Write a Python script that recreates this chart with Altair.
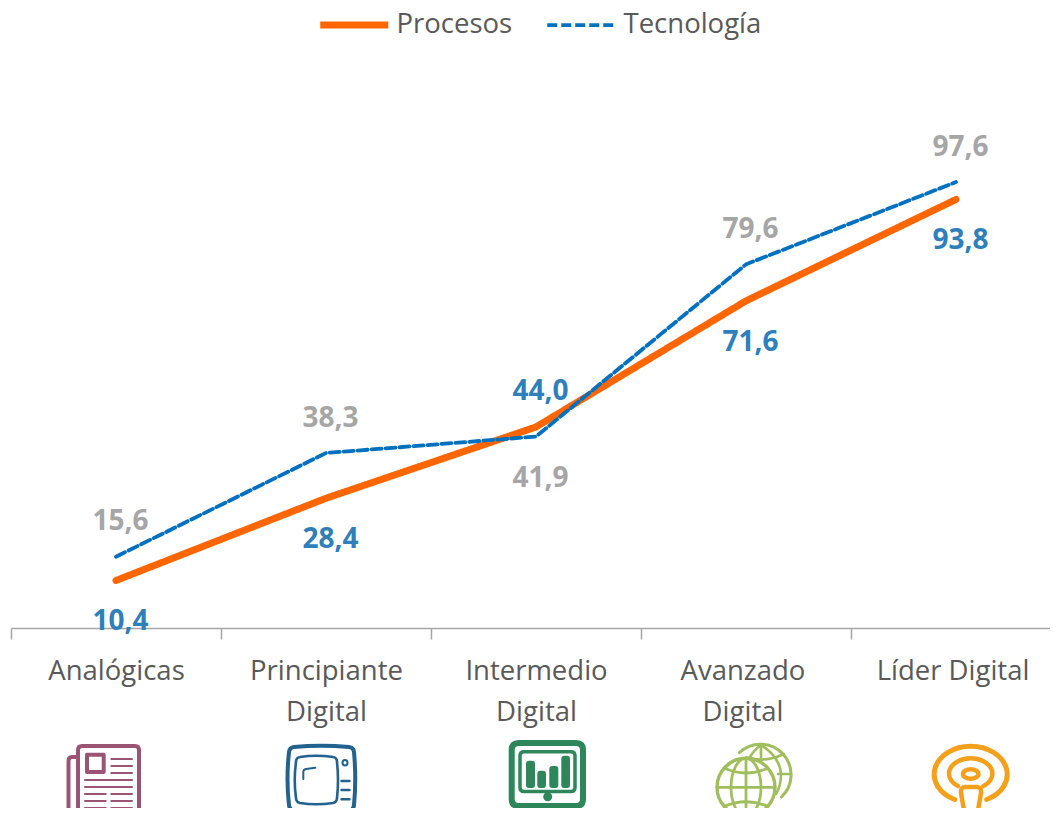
import altair as alt
import pandas as pd

categories = ["Analógicas", "Principiante\nDigital", "Intermedio\nDigital", "Avanzado\nDigital", "Líder Digital"]
procesos = [10.4, 28.4, 44.0, 71.6, 93.8]
tecnologia = [15.6, 38.3, 41.9, 79.6, 97.6]
procesos_lado = ["abajo", "abajo", "arriba", "abajo", "abajo"]
tecnologia_lado = ["arriba", "arriba", "abajo", "arriba", "arriba"]
series = ["Procesos", "Tecnología"]

FONT = "Open Sans"
GREY_TEXT = "#595959"


def etiqueta(v):
    return f"{v:.1f}".replace(".", ",")


rows = []
for nombre, vals, lados in (("Procesos", procesos, procesos_lado), ("Tecnología", tecnologia, tecnologia_lado)):
    for c, v, l in zip(categories, vals, lados):
        rows.append({"cat": c, "serie": nombre, "valor": v, "lado": l, "texto": etiqueta(v)})
df = pd.DataFrame(rows)

W, H = 1039, 620
xenc = alt.X("cat:N", sort=None,
             scale=alt.Scale(domain=categories, type="band", paddingInner=0, paddingOuter=0, range=[0, 1050]),
             axis=alt.Axis(title=None, tickBand="extent", tickSize=11, tickColor="#A6A6A6", tickWidth=1.5,
                           domainColor="#A6A6A6", domainWidth=1.5, grid=False, labelAngle=0,
                           labelFont=FONT, labelFontSize=27.5, labelColor=GREY_TEXT, labelPadding=18,
                           labelLineHeight=41, labelExpr="split(datum.label, '\\n')", labelOverlap=False,
                           labelBound=False, labelFlush=False,
                           labelOffset={"condition": {"test": "datum.index > 0.7", "value": -3.5}, "value": 0}))
yenc = alt.Y("valor:Q", scale=alt.Scale(domain=[0, 135.7], nice=False, zero=True), axis=None)

lines = alt.Chart(df).mark_line(strokeCap="round", strokeJoin="miter").encode(
    x=xenc, y=yenc,
    color=alt.Color("serie:N", sort=series, scale=alt.Scale(domain=series, range=["#FF6600", "#0070C0"]),
                    legend=alt.Legend(title=None, orient="none", legendX=329.5, legendY=3, direction="horizontal",
                                      symbolType="M-3.4 0L3.4 0", symbolSize=400, labelFont=FONT, labelFontSize=27.5,
                                      labelColor=GREY_TEXT, columnPadding=27, labelOffset=28.5, padding=0,
                                      labelLimit=300)),
    strokeDash=alt.StrokeDash("serie:N", sort=series, scale=alt.Scale(domain=series, range=[[1, 0], [10, 4]]), legend=None),
    strokeWidth=alt.StrokeWidth("serie:N", sort=series, scale=alt.Scale(domain=series, range=[7, 3.8]), legend=None),
)

layers = [lines]
for nombre, col in (("Procesos", "#2E7FBA"), ("Tecnología", "#A6A6A6")):
    for lado, dy in (("arriba", -34.5), ("abajo", 42)):
        d = df[(df.serie == nombre) & (df.lado == lado)]
        layers.append(alt.Chart(d).mark_text(font=FONT, fontSize=28, fontWeight="bold", color=col, dx=4.5, dy=dy,
                                             align="center", baseline="middle").encode(x=xenc, y=yenc, text="texto:N"))


def fmt(v):
    return f"{v:.1f}"


class Ic:
    """Builds an SVG path around an origin, in pixels of the picture."""
    def __init__(self, ox, oy=780):
        self.ox, self.oy, self.s = ox, oy, []

    def p(self, x, y):
        return f"{fmt(x - self.ox)} {fmt(y - self.oy)}"

    def path(self, *cmds):
        out = []
        for c in cmds:
            letter, coords = c[0], c[1:]
            pts = " ".join(self.p(coords[i], coords[i + 1]) for i in range(0, len(coords), 2))
            out.append(letter + pts)
        return "".join(out)

    def line(self, x0, y0, x1, y1):
        return self.path(("M", x0, y0), ("L", x1, y1))

    def rrect(self, x0, y0, x1, y1, r):
        return self.path(("M", x0 + r, y0), ("L", x1 - r, y0), ("Q", x1, y0, x1, y0 + r), ("L", x1, y1 - r),
                         ("Q", x1, y1, x1 - r, y1), ("L", x0 + r, y1), ("Q", x0, y1, x0, y1 - r), ("L", x0, y0 + r),
                         ("Q", x0, y0, x0 + r, y0)) + "Z"

    def ell(self, cx, cy, rx, ry):
        return (f"M{self.p(cx - rx, cy)}A{fmt(rx)} {fmt(ry)} 0 1 1 {self.p(cx + rx, cy)}"
                f"A{fmt(rx)} {fmt(ry)} 0 1 1 {self.p(cx - rx, cy)}Z")

    def arc(self, x0, y0, rx, ry, x1, y1, large=1):
        return f"M{self.p(x0, y0)}A{fmt(rx)} {fmt(ry)} 0 {large} 1 {self.p(x1, y1)}"


def icon(cat, color, stroked=(), filled=()):
    out = []
    d = pd.DataFrame({"cat": [cat]})
    for shape, sw in stroked:
        out.append(alt.Chart(d).mark_point(shape=shape, size=4, filled=False, stroke=color, strokeWidth=sw, opacity=1,
                                           strokeCap="round", strokeJoin="round")
                   .encode(x=xenc, y=alt.value(772)))
    for shape in filled:
        out.append(alt.Chart(d).mark_point(shape=shape, size=4, filled=True, fill=color, strokeWidth=0, opacity=1)
                   .encode(x=xenc, y=alt.value(772)))
    return out


# Periódico
a = Ic(116)
outline = a.path(("M", 78, 808), ("L", 78, 750), ("Q", 78, 746, 82, 746), ("L", 135, 746), ("Q", 139, 746, 139, 750),
                 ("L", 139, 811), ("Q", 139, 815, 135, 815), ("L", 76, 815), ("Q", 68.5, 815, 68.5, 808),
                 ("L", 68.5, 761), ("Q", 68.5, 757, 72, 757), ("L", 78, 757))
thin = "".join([a.line(111.3, y, 132, y) for y in (759, 766, 773)] + [a.line(85, y, 132, y) for y in (780, 787)]
               + [a.line(85, y, 105.7, y) + a.line(111.3, y, 132, y) for y in (794, 801, 808)])
layers += icon(categories[0], "#9B5474", stroked=[(outline, 4), (a.path(("M", 87, 754.7), ("L", 103.7, 754.7), ("L", 103.7, 772), ("L", 87, 772)) + "Z", 4), (thin, 2)])

# Televisor
b = Ic(326)
tv_out = b.path(("M", 294, 747), ("Q", 321, 744.5, 349, 747), ("Q", 353.5, 747.5, 354, 752), ("Q", 356.5, 780, 354, 805),
                ("Q", 353.5, 810, 349, 811), ("Q", 321, 814, 294, 811), ("Q", 289.5, 810, 289, 805),
                ("Q", 286, 780, 289, 752), ("Q", 289.5, 747.5, 294, 747)) + "Z"
tv_scr = b.path(("M", 300, 757), ("Q", 316, 754.5, 333, 757), ("Q", 337, 757.5, 337, 762), ("Q", 339, 780, 337, 798),
                ("Q", 337, 802, 333, 803), ("Q", 316, 805.5, 300, 803), ("Q", 296, 802, 296, 798),
                ("Q", 293.5, 780, 296, 762), ("Q", 296, 757.5, 300, 757)) + "Z"
tv_gl = b.path(("M", 303.3, 779), ("L", 303.3, 772), ("Q", 303.3, 769.5, 306, 769), ("L", 315.3, 767.7))
tv_lines = "".join(b.line(341.5, y, 349.5, y) for y in (781, 790, 799.3))
tv_base = b.path(("M", 305, 813.5), ("L", 337, 813.5), ("L", 334, 818), ("L", 308, 818)) + "Z"
layers += icon(categories[1], "#22628F", stroked=[(tv_out, 4), (tv_scr, 2.6), (tv_gl, 2), (b.ell(345, 762.7, 2.5, 2.8), 2), (tv_lines, 2.4)], filled=[tv_base])

# Monitor
c = Ic(536)
layers += icon(categories[2], "#2E875A",
               stroked=[(c.rrect(511.7, 743, 583, 806, 7), 6), (c.rrect(520, 751.7, 575, 791.6, 4), 3.5),
                        (c.path(("M", 541, 809), ("L", 533, 817), ("L", 562, 817), ("L", 555, 809)), 4)],
               filled=[c.rrect(526, 760.7, 535, 788, 3), c.rrect(537.3, 770.7, 546, 788, 3),
                       c.rrect(549.3, 766, 558.3, 788, 3), c.rrect(561.3, 755.7, 570, 788, 3),
                       c.ell(547.7, 796.7, 4.5, 4.5)])

# Globos
g = Ic(746)
front = g.ell(746, 787.3, 29, 29)
mer = g.ell(746, 787.3, 15, 29) + g.line(746, 758, 746, 816) + g.line(717, 787.3, 775, 787.3)
lat = g.path(("M", 724, 768), ("Q", 746, 778, 768, 768)) + g.path(("M", 724, 806.5), ("Q", 746, 797, 768, 806.5))
back = g.arc(739.5, 752.5, 29, 29, 781.5, 797, 1)
back_in = (g.path(("M", 761, 745), ("Q", 780, 757, 781, 774), ("Q", 781, 786, 776, 794))
           + g.path(("M", 761, 745), ("Q", 754, 750, 750, 757))
           + g.line(761, 745, 761, 759) + g.line(778, 774, 790, 774)
           + g.path(("M", 746, 757.5), ("Q", 765, 763, 784, 754)))
layers += icon(categories[3], "#A0BE5C", stroked=[(back, 3), (back_in, 2.6), (front, 3.4), (mer, 2.8), (lat, 2.8)])

# Podcast
h = Ic(956)
layers += icon(categories[4], "#F5A01A",
               stroked=[(h.arc(954.7, 799.5, 36.5, 28, 986.7, 799.5, 1), 5),
                        (h.arc(958, 786, 21.7, 15.3, 983.4, 786, 1), 4.5),
                        (h.ell(970.7, 774, 7.7, 4.7), 4.5),
                        (h.path(("M", 965, 787), ("L", 977, 787), ("Q", 981.5, 787, 981, 793), ("L", 977, 816),
                                ("L", 965, 816), ("L", 961, 793), ("Q", 960.5, 787, 965, 787)) + "Z", 4.5)])

chart = alt.layer(*layers).properties(
    width=W, height=H, padding={"left": 3, "top": 0, "right": 0, "bottom": 180}, background="white",
    autosize=alt.AutoSizeParams(type="none", contains="content"),
).configure_view(stroke=None)

chart.save("out.html", embed_options={"renderer": "svg", "actions": False})
